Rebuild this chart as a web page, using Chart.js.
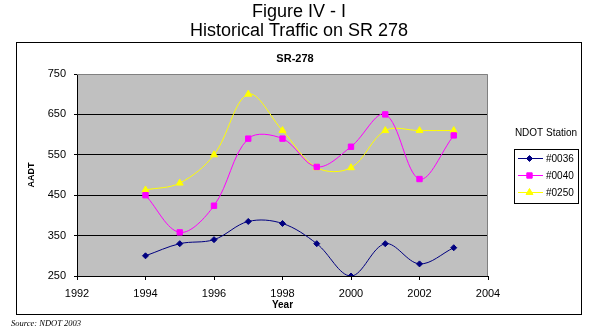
<!DOCTYPE html>
<html>
<head>
<meta charset="utf-8">
<title>Historical Traffic on SR 278</title>
<script src="https://cdn.jsdelivr.net/npm/chart.js@4.4.1/dist/chart.umd.min.js"></script>
<style>
  body { margin: 0; background: #fff; }
  #traffic { display: block; }
</style>
</head>
<body>
<canvas id="traffic" width="593" height="333"></canvas>
<script>
// AADT counts per NDOT station, 1994-2003
var years = [1994, 1995, 1996, 1997, 1998, 1999, 2000, 2001, 2002, 2003];
var station0036 = [300, 330, 340, 385, 380, 330, 250, 330, 280, 320];
var station0040 = [450, 358, 424, 590, 590, 520, 570, 650, 490, 598];
var station0250 = [463, 480, 550, 700, 610, 518, 518, 610, 610, 610];
var stationNames = ['#0036', '#0040', '#0250'];
var xTicks = [1992, 1994, 1996, 1998, 2000, 2002, 2004];
var yTicks = [250, 350, 450, 550, 650, 750];

function points(values) {
    return years.map(function (yr, i) { return { x: yr, y: values[i] }; });
}

function series(label, values, color, style, radius) {
    return {
        label: label,
        data: points(values),
        borderColor: color,
        backgroundColor: color,
        borderWidth: 1,
        pointStyle: style,
        pointRadius: radius,
        pointBackgroundColor: color,
        pointBorderColor: color,
        pointBorderWidth: 1,
        tension: 0.35,
        fill: false
    };
}

function drawMarker(ctx, ds, x, y) {
    var opts = { pointStyle: ds.pointStyle, radius: ds.pointRadius, rotation: 0, borderWidth: 1 };
    ctx.fillStyle = ds.pointBackgroundColor;
    ctx.strokeStyle = ds.pointBorderColor;
    ctx.lineWidth = 1;
    Chart.helpers.drawPoint(ctx, opts, x, y);
}

// frame, headings, legend box and source line around the plot
var frame = {
    id: 'frame',
    beforeDraw: function (chart) {
        var ctx = chart.ctx, a = chart.chartArea;
        ctx.save();
        ctx.fillStyle = '#ffffff';
        ctx.fillRect(0, 0, chart.width, chart.height);
        ctx.fillStyle = '#c0c0c0';
        ctx.fillRect(a.left, a.top, a.right - a.left, a.bottom - a.top);
        ctx.restore();
    },
    beforeDatasetsDraw: function (chart) {
        var ctx = chart.ctx, a = chart.chartArea;
        ctx.save();
        ctx.strokeStyle = '#808080';
        ctx.lineWidth = 1;
        ctx.beginPath();
        ctx.moveTo(a.left, a.top + 0.5);
        ctx.lineTo(a.right - 0.5, a.top + 0.5);
        ctx.lineTo(a.right - 0.5, a.bottom);
        ctx.stroke();
        ctx.restore();
    },
    afterDraw: function (chart) {
        var ctx = chart.ctx;
        ctx.save();

        ctx.fillStyle = '#000';
        ctx.textAlign = 'center';
        ctx.textBaseline = 'alphabetic';
        ctx.font = '18px "Liberation Sans", Arial, sans-serif';
        ctx.fillText('Figure IV - I', 299, 17);
        ctx.fillText('Historical Traffic on SR 278', 299, 36);

        ctx.strokeStyle = '#000';
        ctx.lineWidth = 1;
        ctx.strokeRect(16.5, 42.5, 565, 272);

        ctx.font = 'bold 11px "Liberation Sans Narrow", "Liberation Sans", sans-serif';
        ctx.fillText('SR-278', 295, 62);

        // legend
        ctx.font = '10px "Liberation Sans", Arial, sans-serif';
        ctx.fillText('NDOT Station', 546, 136);
        ctx.strokeRect(514.5, 149.5, 64, 54);
        ctx.textAlign = 'left';
        ctx.textBaseline = 'middle';
        chart.data.datasets.forEach(function (ds, i) {
            var y = 158 + i * 17.2;
            ctx.strokeStyle = ds.borderColor;
            ctx.beginPath();
            ctx.moveTo(518, Math.round(y) + 0.5);
            ctx.lineTo(543, Math.round(y) + 0.5);
            ctx.stroke();
            drawMarker(ctx, ds, 529.5, Math.round(y) + 0.5);
            ctx.fillStyle = '#000';
            ctx.fillText(stationNames[i], 546, Math.round(y) + 1);
        });

        ctx.textBaseline = 'alphabetic';
        ctx.font = 'italic 8.5px "Liberation Serif", "Times New Roman", serif';
        ctx.fillText('Source: NDOT 2003', 11, 326);
        ctx.restore();
    }
};

Chart.defaults.font.family = '"Liberation Sans", Arial, sans-serif';
Chart.defaults.font.size = 11;
Chart.defaults.color = '#000';

var ctx = document.getElementById('traffic').getContext('2d');
var trafficChart = new Chart(ctx, {
    type: 'line',
    data: {
        datasets: [
            series(stationNames[0], station0036, '#000080', 'rectRot', 3),
            series(stationNames[1], station0040, '#ff00ff', 'rect', 3.8),
            series(stationNames[2], station0250, '#ffff00', 'triangle', 4)
        ]
    },
    options: {
        responsive: false,
        animation: false,
        devicePixelRatio: 1,
        layout: { padding: { top: 74, right: 105, bottom: 21, left: 16 } },
        plugins: {
            legend: { display: false },
            title: { display: false },
            tooltip: { enabled: false }
        },
        scales: {
            x: {
                type: 'linear',
                min: 1992,
                max: 2004,
                afterBuildTicks: function (scale) {
                    scale.ticks = xTicks.map(function (v) { return { value: v }; });
                },
                afterFit: function (scale) {
                    scale.height = 36;
                    scale.paddingLeft = 0;
                    scale.paddingRight = 0;
                },
                ticks: {
                    padding: 7,
                    maxRotation: 0,
                    callback: function (v) { return String(v); }
                },
                grid: { drawOnChartArea: false, tickLength: 4, color: '#000' },
                border: { color: '#000', width: 1 },
                title: {
                    display: true,
                    text: 'Year',
                    font: { weight: 'bold', size: 10 },
                    padding: { top: 0, bottom: 1 }
                }
            },
            y: {
                min: 250,
                max: 750,
                afterBuildTicks: function (scale) {
                    scale.ticks = yTicks.map(function (v) { return { value: v }; });
                },
                afterFit: function (scale) {
                    scale.width = 61;
                    scale.paddingTop = 0;
                    scale.paddingBottom = 0;
                },
                ticks: { padding: 8 },
                grid: {
                    tickLength: 3,
                    tickColor: '#000',
                    color: function (c) {
                        var v = c.tick ? c.tick.value : null;
                        return (v === 250 || v === 750) ? 'rgba(0,0,0,0)' : '#000';
                    }
                },
                border: { color: '#000', width: 1 },
                title: {
                    display: true,
                    text: 'AADT',
                    font: { family: '"Liberation Sans Narrow", "Liberation Sans", sans-serif', weight: 'bold', size: 9 },
                    padding: { top: 10, bottom: 0 }
                }
            }
        }
    },
    plugins: [frame]
});
</script>
</body>
</html>
